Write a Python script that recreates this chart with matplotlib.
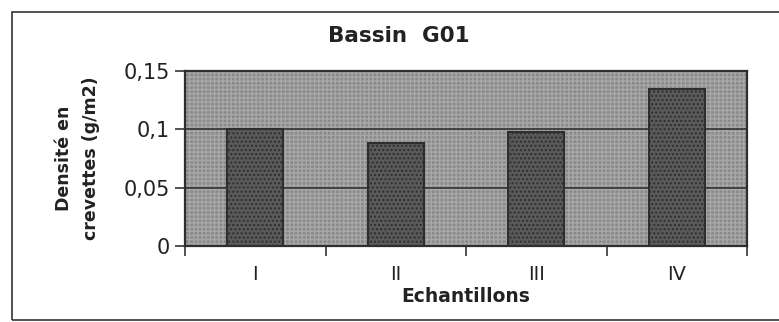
import matplotlib

matplotlib.use("Agg")
import matplotlib.pyplot as plt
from matplotlib.patches import Rectangle

plt.rcParams["font.family"] = ["DejaVu Sans"]

# données
echantillons = ["I", "II", "III", "IV"]
densite = [0.100, 0.088, 0.098, 0.135]
y_ticks = [0, 0.05, 0.1, 0.15]
y_tick_labels = ["0", "0,05", "0,1", "0,15"]

fig = plt.figure(figsize=(7.79, 3.22), dpi=100)
fig.patch.set_facecolor("white")
ax = fig.add_axes([0.2375, 0.236, 0.7215, 0.5435])

# fond gris tramé de la zone de tracé
ax.set_facecolor("#8a8a8a")
ax.add_patch(Rectangle((0, 0), 1, 1, transform=ax.transAxes, facecolor="none",
                       edgecolor="#a8a8a8", hatch="++++", lw=0, zorder=0))

x = range(len(echantillons))
ax.bar(x, densite, width=0.4, color="#5a5a5a", edgecolor="#2e2e2e",
       lw=1.5, zorder=3, hatch="....")

ax.set_xlim(-0.5, len(echantillons) - 0.5)
ax.set_ylim(0, 0.15)
ax.set_yticks(y_ticks)
ax.set_yticklabels(y_tick_labels, fontsize=15, color="#222222")
ax.set_xticks(x)
ax.set_xticklabels(echantillons, fontsize=14, color="#222222")
ax.tick_params(axis="x", length=0, pad=14)
ax.tick_params(axis="y", length=7, width=1.2, color="#333333", pad=4)
# tirets entre les catégories
ax.set_xticks([i + 0.5 for i in range(-1, len(echantillons))], minor=True)
ax.tick_params(axis="x", which="minor", length=7, width=1.2, color="#333333")

for v in y_ticks[1:-1]:
    ax.axhline(v, color="#333333", lw=1.2, zorder=2)
for s in ax.spines.values():
    s.set_color("#2e2e2e")
    s.set_linewidth(1.6)

fig.text(399 / 779, 1 - 36 / 322, "Bassin  G01", fontsize=15.5,
         fontweight="bold", color="#222222", ha="center", va="center")
ax.set_xlabel("Echantillons", fontsize=13.5, fontweight="bold",
              color="#222222", labelpad=2)
ax.set_ylabel("Densité en\ncrevettes (g/m2)", fontsize=12.5,
              fontweight="bold", color="#222222", labelpad=17,
              linespacing=1.6)

# cadre extérieur
fig.patches.append(Rectangle((12 / 779, 2 / 322), 1.0, 308 / 322,
                             transform=fig.transFigure, fill=False,
                             edgecolor="#333333", lw=1.2))

fig.savefig("out.png", dpi=100)
